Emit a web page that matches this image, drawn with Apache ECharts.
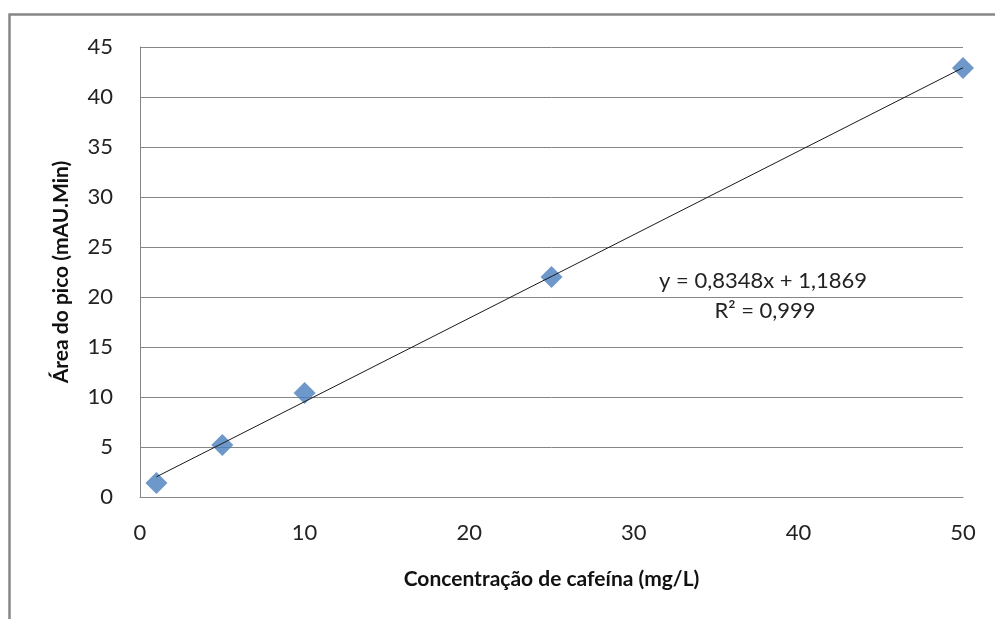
<!DOCTYPE html>
<html>
<head>
<meta charset="utf-8">
<script src="https://cdn.jsdelivr.net/npm/echarts@6/dist/echarts.min.js"></script>
<style>
  html, body { margin: 0; padding: 0; background: #fff; }
  #chart { width: 995px; height: 619px; }
</style>
</head>
<body>
<div id="chart"></div>
<script>
// Calibration data: caffeine concentration vs. peak area
const concentrations = [1, 5, 10, 25, 50];          // mg/L
const peakAreas = [1.4, 5.2, 10.4, 22.0, 42.9];     // mAU.Min
const xTicks = [0, 10, 20, 30, 40, 50];
const yTicks = [0, 5, 10, 15, 20, 25, 30, 35, 40, 45];

// Linear fit reported for the calibration curve
const fitSlope = 0.8348;
const fitIntercept = 1.1869;
const fitR2 = 0.999;

const fmt = (v, d) => v.toFixed(d).replace('.', ',');
const xMin = Math.min(...concentrations);
const xMax = Math.max(...concentrations);
const fitLine = [xMin, xMax].map(x => [x, fitSlope * x + fitIntercept]);

const FONT = 'Lato, "Open Sans", sans-serif';

const chart = echarts.init(document.getElementById('chart'), null, { renderer: 'canvas' });
chart.setOption({
  animation: false,
  backgroundColor: '#fff',
  grid: { left: 140, top: 47, right: 32, bottom: 122, containLabel: false },
  xAxis: {
    type: 'value',
    min: xTicks[0], max: xTicks[xTicks.length - 1], interval: 10,
    name: 'Concentração de cafeína (mg/L)',
    nameLocation: 'middle', nameGap: 72,
    nameTextStyle: { fontFamily: FONT, fontSize: 21, fontWeight: 'bold', color: '#111' },
    axisLine: { show: true, lineStyle: { color: '#868686', width: 1 } },
    axisTick: { show: false },
    splitLine: { show: false },
    axisLabel: { fontFamily: FONT, fontSize: 22, color: '#222', margin: 25 }
  },
  yAxis: {
    type: 'value',
    min: yTicks[0], max: yTicks[yTicks.length - 1], interval: 5,
    name: 'Área do pico (mAU.Min)',
    nameLocation: 'middle', nameGap: 68, nameRotate: 90,
    nameTextStyle: { fontFamily: FONT, fontSize: 21, fontWeight: 'bold', color: '#111' },
    axisLine: { show: true, lineStyle: { color: '#868686', width: 1 } },
    axisTick: { show: false },
    splitLine: { show: true, lineStyle: { color: '#868686', width: 1 } },
    axisLabel: { fontFamily: FONT, fontSize: 22, color: '#222', margin: 27 }
  },
  series: [
    {
      type: 'line',
      data: fitLine,
      showSymbol: false,
      lineStyle: { color: '#1a1a1a', width: 1 },
      z: 3,
      silent: true
    },
    {
      type: 'scatter',
      data: concentrations.map((x, i) => [x, peakAreas[i]]),
      symbol: 'diamond',
      symbolSize: [22, 22],
      itemStyle: { color: '#4A7EBB' },
      z: 2
    }
  ],
  graphic: [
    {
      type: 'rect',
      shape: { x: 9.5, y: 14.5, width: 1000, height: 700 },
      style: { fill: 'none', stroke: '#878787', lineWidth: 2.5 },
      silent: true, z: 0
    },
    {
      type: 'text', x: 763, y: 281,
      style: {
        text: 'y = ' + fmt(fitSlope, 4) + 'x + ' + fmt(fitIntercept, 4),
        fontFamily: FONT, fontSize: 22, fill: '#222',
        align: 'center', verticalAlign: 'middle'
      }
    },
    {
      type: 'text', x: 765, y: 311,
      style: {
        text: 'R² = ' + fmt(fitR2, 3),
        fontFamily: FONT, fontSize: 22, fill: '#222',
        align: 'center', verticalAlign: 'middle'
      }
    }
  ]
});
</script>
</body>
</html>
